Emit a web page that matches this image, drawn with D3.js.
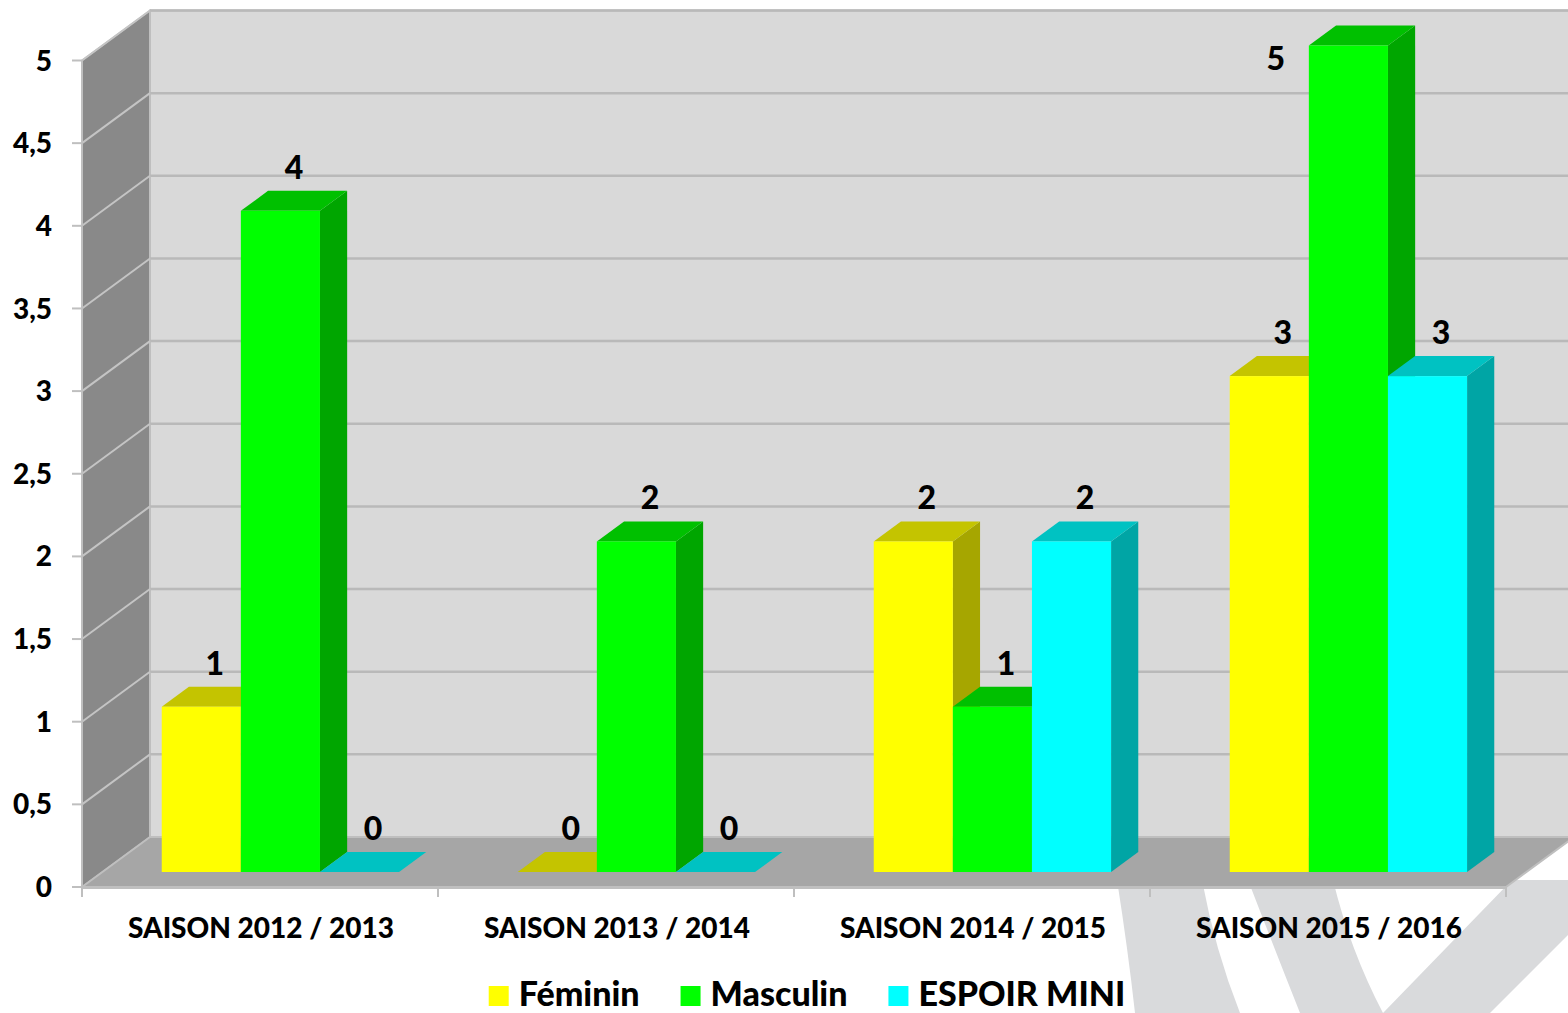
<!DOCTYPE html>
<html>
<head>
<meta charset="utf-8">
<title>Saisons - effectifs</title>
<style>
  body { margin: 0; background: #fff; }
  svg { display: block; }
  text { font-family: Lato, "Open Sans", sans-serif; font-weight: 900; fill: #000; }
</style>
</head>
<body>
<svg></svg>
<script src="https://d3js.org/d3.v7.min.js"></script>
<script>
// data
const categories = ["SAISON 2012 / 2013", "SAISON 2013 / 2014", "SAISON 2014 / 2015", "SAISON 2015 / 2016"];
const seriesNames = ["Féminin", "Masculin", "ESPOIR MINI"];
const feminin = [1, 0, 2, 3];
const masculin = [4, 2, 1, 5];
const espoirMini = [0, 0, 2, 3];
const yTicks = [0, 0.5, 1, 1.5, 2, 2.5, 3, 3.5, 4, 4.5, 5];

const width = 1568, height = 1013;
const svg = d3.select("svg").attr("width", width).attr("height", height);

// 3d look : front plane + depth offset
const depthX = 68, depthY = -50;
const left = 82, right = 1506, bottom = 887;

const y = d3.scaleLinear().domain([0, 5]).range([bottom, 60.5]);
const xCat = d3.scaleBand().domain(categories).range([left, right]).padding(0);
const xSer = d3.scaleBand().domain(seriesNames).range([0, xCat.bandwidth()])
    .paddingInner(0).paddingOuter(0.75);

const colors = {
  "Féminin":     { front: "#ffff00", top: "#c4c400", side: "#a6a600" },
  "Masculin":    { front: "#00ff00", top: "#00c000", side: "#00a600" },
  "ESPOIR MINI": { front: "#00ffff", top: "#00c2c2", side: "#00a5a5" }
};
const valuesBySeries = { "Féminin": feminin, "Masculin": masculin, "ESPOIR MINI": espoirMini };

const fmt = d => String(d).replace(".", ",");
const pts = arr => arr.map(p => p.join(",")).join(" ");

// watermark in the back (logo bits)
const wm = svg.append("g").attr("fill", "#d9dadc");
wm.append("path").attr("d", "M1117,880 Q1128,950 1135,1013 L1240,1013 Q1215,950 1202,880 Z");
wm.append("path").attr("d", "M1248,880 Q1275,950 1300,1013 L1383,1013 Q1350,950 1333,880 Z");
wm.append("path").attr("d", "M1512,880 L1383,1013 L1490,1013 L1568,935 L1568,880 Z");

// side wall
svg.append("polygon")
  .attr("points", pts([[left, bottom], [left + depthX, bottom + depthY], [left + depthX, y(5) + depthY], [left, y(5)]]))
  .attr("fill", "#898989").attr("stroke", "#bfbfbf").attr("stroke-width", 1.5);

// back wall
svg.append("rect")
  .attr("x", left + depthX).attr("y", y(5) + depthY)
  .attr("width", width - left - depthX + 10).attr("height", bottom - y(5))
  .attr("fill", "#d9d9d9").attr("stroke", "#bfbfbf").attr("stroke-width", 2);

// floor
svg.append("polygon")
  .attr("points", pts([[left, bottom], [right, bottom], [right + depthX, bottom + depthY], [left + depthX, bottom + depthY]]))
  .attr("fill", "#a6a6a6").attr("stroke", "#bfbfbf").attr("stroke-width", 2);

// gridlines
const grid = svg.append("g");
yTicks.filter(t => t > 0).forEach(t => {
  grid.append("line")
    .attr("x1", left + depthX).attr("x2", width + 10)
    .attr("y1", y(t) + depthY).attr("y2", y(t) + depthY)
    .attr("stroke", "#b9b9b9").attr("stroke-width", 2.5);
  grid.append("line")
    .attr("x1", left).attr("x2", left + depthX)
    .attr("y1", y(t)).attr("y2", y(t) + depthY)
    .attr("stroke", "#c4c4c4").attr("stroke-width", 2);
});

// y axis
const yAxis = svg.append("g");
yAxis.append("line").attr("x1", left).attr("x2", left).attr("y1", bottom).attr("y2", y(5))
  .attr("stroke", "#bfbfbf").attr("stroke-width", 2);
yTicks.forEach(t => {
  yAxis.append("line").attr("x1", left - 10).attr("x2", left).attr("y1", y(t)).attr("y2", y(t))
    .attr("stroke", "#bfbfbf").attr("stroke-width", 2);
  yAxis.append("text").attr("x", 52).attr("y", y(t)).attr("dy", "0.36em")
    .attr("text-anchor", "end").style("font-size", "28px").text(fmt(t));
});

// x axis
const xAxis = svg.append("g");
xAxis.append("line").attr("x1", left).attr("x2", right).attr("y1", bottom + 1).attr("y2", bottom + 1)
  .attr("stroke", "#bfbfbf").attr("stroke-width", 2);
categories.concat([null]).forEach((c, i) => {
  const xx = c ? xCat(c) : right;
  xAxis.append("line").attr("x1", xx).attr("x2", xx).attr("y1", bottom).attr("y2", bottom + 10)
    .attr("stroke", "#bfbfbf").attr("stroke-width", 2);
});
categories.forEach(c => {
  xAxis.append("text").attr("x", xCat(c) + xCat.bandwidth() / 2 + 1).attr("y", 928).attr("dy", "0.36em")
    .attr("text-anchor", "middle").style("font-size", "28px").text(c);
});

// bars
const bw = xSer.bandwidth();
const fx = depthX * 0.3, fy = depthY * 0.3;   // front face offset into the depth
const bx = depthX * 0.4, by = depthY * 0.4;   // bar depth
const bars = svg.append("g");
const labels = [];
categories.forEach((c, ci) => {
  seriesNames.forEach(s => {
    const v = valuesBySeries[s][ci];
    const col = colors[s];
    const x0 = xCat(c) + xSer(s) + fx, x1 = x0 + bw;
    const yb = y(0) + fy, yt = y(v) + fy;
    const g = bars.append("g");
    if (v > 0) {
      g.append("polygon").attr("fill", col.side)
        .attr("points", pts([[x1, yb], [x1 + bx, yb + by], [x1 + bx, yt + by], [x1, yt]]));
    }
    g.append("polygon").attr("fill", col.top)
      .attr("points", pts([[x0, yt], [x1, yt], [x1 + bx, yt + by], [x0 + bx, yt + by]]));
    if (v > 0) {
      g.append("rect").attr("x", x0).attr("y", yt).attr("width", bw).attr("height", yb - yt)
        .attr("fill", col.front);
    }
    let lx = x0 + bw / 2 + bx / 2, ly = yt - 32;
    if (ly < 40) { lx = x0 - 33; ly = yt + 24; }
    labels.push({ x: lx, y: ly, v: v });
  });
});

svg.append("g").selectAll("text").data(labels).join("text")
  .attr("x", d => d.x).attr("y", d => d.y)
  .attr("text-anchor", "middle").style("font-size", "32px")
  .text(d => fmt(d.v));

// legend
const legend = svg.append("g");
let lxPos = 0;
seriesNames.forEach(s => {
  const item = legend.append("g").attr("transform", `translate(${lxPos},0)`);
  item.append("rect").attr("x", 0).attr("y", -20).attr("width", 20).attr("height", 20).attr("fill", colors[s].front);
  const t = item.append("text").attr("x", 30).attr("y", 0).style("font-size", "34px").text(s);
  lxPos += 30 + t.node().getComputedTextLength() + 41;
});
const legW = lxPos - 41;
legend.attr("transform", `translate(${(left + right) / 2 + 13 - legW / 2},1006)`);
</script>
</body>
</html>
